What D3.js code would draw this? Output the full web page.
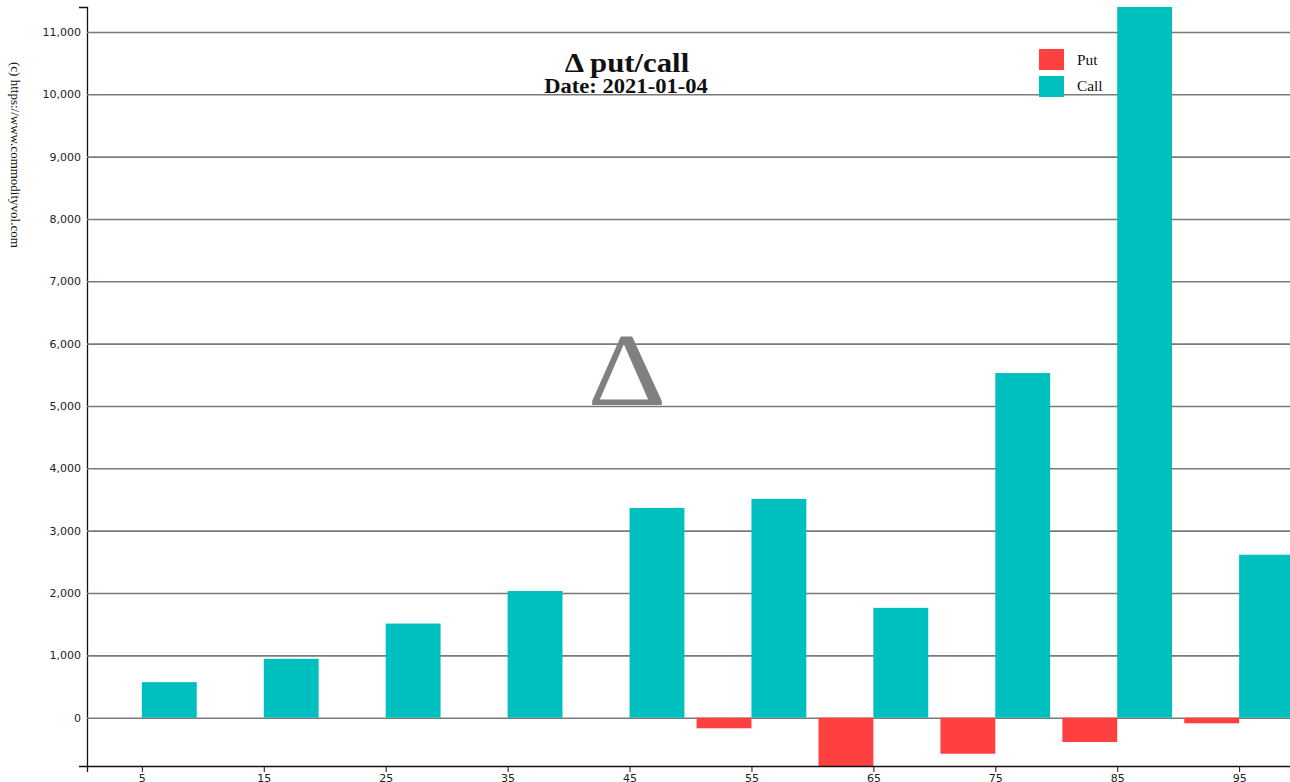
<!DOCTYPE html>
<html><head><meta charset="utf-8">
<script src="https://cdn.jsdelivr.net/npm/d3@7"></script>
<style>
html,body{margin:0;padding:0;background:#fff;overflow:hidden;}
</style></head>
<body>
<svg id="chart" width="1300" height="782"></svg>
<script>
const strikes = [5, 15, 25, 35, 45, 55, 65, 75, 85, 95];
const putValues = [0, 0, 0, 0, 0, -170, -775, -578, -390, -90];
const callValues = [570, 945, 1510, 2032, 3365, 3510, 1762, 5528, 11400, 2614];
const xTickLabels = [5, 15, 25, 35, 45, 55, 65, 75, 85, 95];
const titleText = "Δ put/call";
const dateText = "Date: 2021-01-04";
const watermark = "(c) https://www.commodityvol.com";
const legendLabels = ["Put", "Call"];
const colors = {Put: "#ff4040", Call: "#00bfbf"};

(function () {
const svg = d3.select("#chart");
const pLeft = 87, pRight = 1294, pTop = 7, pBottom = 766;

const x = d3.scaleLinear().domain([0.5, 99.5]).range([pLeft, pRight]);
const allVals = putValues.concat(callValues);
const y = d3.scaleLinear().domain(d3.extent(allVals)).range([pBottom, pTop]);

// Gridlines + y axis
const yAxis = d3.axisLeft(y).tickSizeInner(-(pRight - pLeft)).tickSizeOuter(8).tickPadding(6)
  .tickFormat(d3.format(","));
const gy = svg.append("g").attr("transform", `translate(${pLeft},0)`).call(yAxis);
gy.selectAll(".tick line").attr("stroke", "#7a7a7a").attr("stroke-width", 1.6);
gy.select(".domain").attr("stroke", "#111").attr("stroke-width", 1.3);
gy.selectAll(".tick text").attr("font-family", "DejaVu Sans").attr("font-size", 11).attr("fill", "#222");

// clip
svg.append("clipPath").attr("id", "clip").append("rect")
  .attr("x", pLeft).attr("y", pTop).attr("width", pRight - pLeft).attr("height", pBottom - pTop);

const bars = svg.append("g").attr("clip-path", "url(#clip)");
const putData = strikes.map((s, i) => ({s, v: putValues[i]}));
const callData = strikes.map((s, i) => ({s, v: callValues[i]}));
bars.selectAll(".put").data(putData).join("rect")
  .attr("x", d => x(d.s - 4.5)).attr("width", d => x(d.s) - x(d.s - 4.5))
  .attr("y", d => y(Math.max(0, d.v))).attr("height", d => Math.abs(y(d.v) - y(0)))
  .attr("fill", colors.Put);
bars.selectAll(".call").data(callData).join("rect")
  .attr("x", d => x(d.s)).attr("width", d => x(d.s + 4.5) - x(d.s))
  .attr("y", d => y(Math.max(0, d.v))).attr("height", d => Math.abs(y(d.v) - y(0)))
  .attr("fill", colors.Call);

// x axis
const xAxis = d3.axisBottom(x).tickValues(xTickLabels).tickSizeOuter(6).tickSize(6).tickPadding(2);
const gx = svg.append("g").attr("transform", `translate(0,${pBottom})`).call(xAxis);
gx.select(".domain").attr("stroke", "#111").attr("stroke-width", 1.3);
gx.selectAll(".tick line").attr("stroke", "#111");
gx.selectAll(".tick text").attr("font-family", "DejaVu Sans").attr("font-size", 11).attr("fill", "#222");

// big delta
svg.append("text").attr("transform", "translate(627,405) scale(1.18,1)").attr("text-anchor", "middle")
  .attr("font-family", "Liberation Serif").attr("font-size", 104).attr("fill", "#808080")
  .text("Δ");

// title
svg.append("text").attr("transform", "translate(627,72) scale(1.14,1)").attr("text-anchor", "middle")
  .attr("font-family", "Liberation Serif").attr("font-weight", "bold").attr("font-size", 27)
  .attr("fill", "#111").text(titleText);
svg.append("text").attr("transform", "translate(626,93) scale(1.13,1)").attr("text-anchor", "middle")
  .attr("font-family", "Liberation Serif").attr("font-weight", "bold").attr("font-size", 20)
  .attr("fill", "#111").text(dateText);

// legend
const lg = svg.append("g");
legendLabels.forEach((k, i) => {
  lg.append("rect").attr("x", 1039).attr("y", 49 + i * 27).attr("width", 25).attr("height", 21)
    .attr("fill", colors[k]);
  lg.append("text").attr("transform", `translate(1077,${65 + i * 26}) scale(1.1,1)`)
    .attr("font-family", "Liberation Serif").attr("font-size", 14).attr("fill", "#111").text(k);
});

// watermark
svg.append("text").attr("transform", "translate(11,62) rotate(90)")
  .attr("font-family", "Liberation Serif").attr("font-size", 13).attr("fill", "#111")
  .text(watermark);
})();
</script>
</body></html>
